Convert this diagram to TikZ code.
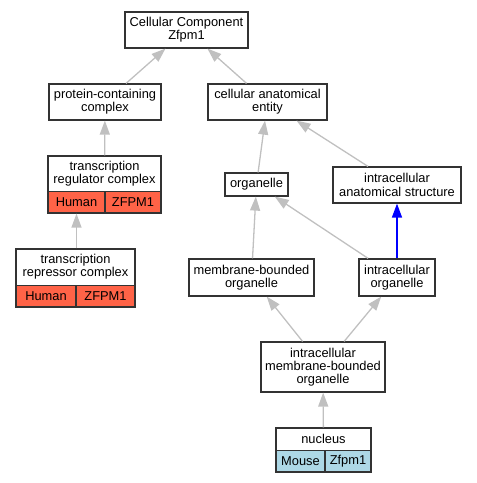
\documentclass[tikz,border=0pt]{standalone}
\usepackage{fontspec}
\setmainfont{Liberation Sans}
\usetikzlibrary{arrows.meta}
\definecolor{humanred}{HTML}{FF6347}
\definecolor{mouseblue}{HTML}{ADD8E6}
\definecolor{edgegray}{HTML}{C0C0C0}
\definecolor{boxline}{HTML}{333333}
\newcommand{\termfont}{\fontsize{12.85}{13.3}\selectfont}
\begin{document}
\begin{tikzpicture}[x=1pt,y=-1pt,
term/.style={draw=boxline,line width=1.2pt,fill=white,align=center,inner sep=0pt,font=\termfont},
cell/.style={term,minimum height=21.5},
title/.style={align=center,inner sep=0pt,font=\termfont,anchor=north},
isa/.style={draw=edgegray,line width=1.3pt,-{Triangle[length=14pt,width=10pt]}},
partof/.style={isa,draw=blue,line width=1.6pt}]
\useasboundingbox (0,0) rectangle (477,483);
\node[term,minimum width=123,minimum height=36] (root) at (186.5,30) {Cellular Component\\Zfpm1};
\node[term,minimum width=112,minimum height=36] (pcc) at (105,102) {protein-containing\\complex};
\node[term,minimum width=119,minimum height=36] (cae) at (267.5,102) {cellular anatomical\\entity};
\node[term,minimum width=113,minimum height=57] (trc) at (104.5,184.5) {};
\node[cell,fill=humanred,minimum width=57,anchor=south west] (trch) at (trc.south west) {Human};
\node[cell,fill=humanred,minimum width=56,anchor=south east] (trcz) at (trc.south east) {ZFPM1};
\node[title,minimum height=35.5] (trct) at (trc.north) {transcription\\regulator complex};
\node[term,minimum width=119,minimum height=58] (tprc) at (75.5,278) {};
\node[cell,fill=humanred,minimum width=60,anchor=south west] (tprch) at (tprc.south west) {Human};
\node[cell,fill=humanred,minimum width=59,anchor=south east] (tprcz) at (tprc.south east) {ZFPM1};
\node[title,minimum height=36.5] (tprct) at (tprc.north) {transcription\\repressor complex};
\node[term,minimum width=63,minimum height=23] (org) at (256.5,184.5) {organelle};
\node[term,minimum width=128,minimum height=36] (ias) at (397,185) {intracellular\\anatomical structure};
\node[term,minimum width=125,minimum height=37] (mbo) at (251.5,277.5) {membrane-bounded\\organelle};
\node[term,minimum width=76,minimum height=37] (io) at (397,277.5) {intracellular\\organelle};
\node[term,minimum width=124,minimum height=50] (imbo) at (323,367) {intracellular\\membrane-bounded\\organelle};
\node[term,minimum width=95,minimum height=44] (nuc) at (323.5,450) {};
\node[cell,fill=mouseblue,minimum width=49,anchor=south west] (nucm) at (nuc.south west) {Mouse};
\node[cell,fill=mouseblue,minimum width=46,anchor=south east] (nucz) at (nuc.south east) {Zfpm1};
\node[title,minimum height=22] (nuct) at (nuc.north) {nucleus};
\draw[isa] (pcc) -- (root);
\draw[isa] (cae) -- (root);
\draw[isa] (trc) -- (pcc);
\draw[isa] (tprc.north -| trch.south) -- (trch.south);
\draw[isa] (org) -- (cae);
\draw[isa] (ias) -- (cae);
\draw[isa] (mbo) -- (org);
\draw[isa] (io) -- (org);
\draw[partof] (io) -- (ias);
\draw[isa] (imbo) -- (mbo);
\draw[isa] (imbo) -- (io);
\draw[isa] (nuc) -- (imbo);
\end{tikzpicture}
\end{document}
